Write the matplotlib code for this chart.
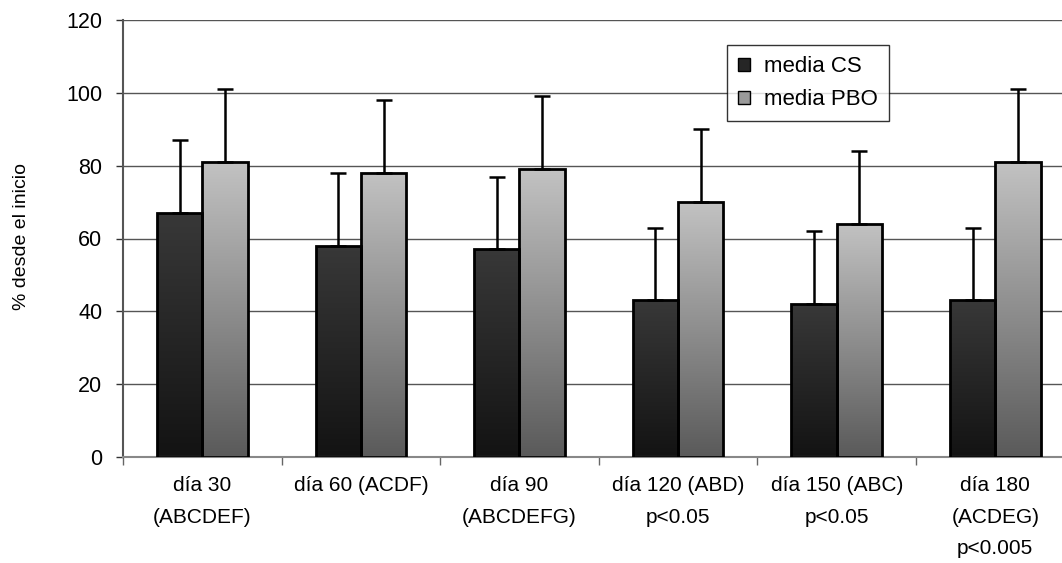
import numpy as np
import matplotlib.pyplot as plt
from matplotlib.patches import Patch
from matplotlib.colors import LinearSegmentedColormap

plt.rcParams['font.family'] = ['Liberation Sans', 'DejaVu Sans']

# data
categories = ["día 30\n(ABCDEF)", "día 60 (ACDF)", "día 90\n(ABCDEFG)",
              "día 120 (ABD)\np<0.05", "día 150 (ABC)\np<0.05",
              "día 180\n(ACDEG)\np<0.005"]
media_cs = [67, 58, 57, 43, 42, 43]
media_pbo = [81, 78, 79, 70, 64, 81]
err_cs = [20, 20, 20, 20, 20, 20]
err_pbo = [20, 20, 20, 20, 20, 20]

fig = plt.figure(figsize=(10.62, 5.63), dpi=100)
ax = fig.add_axes([123 / 1062, 1 - 457 / 563, (1074.6 - 123) / 1062, (457 - 20) / 563])

x = np.arange(len(categories))
w = 1 / 3.5

cmap_dark = LinearSegmentedColormap.from_list("dk", ["#131313", "#383838"])
cmap_light = LinearSegmentedColormap.from_list("lt", ["#5a5a5a", "#c2c2c2"])
grad = np.linspace(0, 1, 256).reshape(-1, 1)


def gradient_bars(xs, vals, cmap):
    bars = ax.bar(xs, vals, width=w, facecolor='none', edgecolor='black',
                  linewidth=2, zorder=3)
    for b in bars:
        x0, y0 = b.get_x(), b.get_y()
        im = ax.imshow(grad, cmap=cmap, origin='lower', aspect='auto',
                       extent=(x0, x0 + b.get_width(), y0, y0 + b.get_height()),
                       zorder=2)
        im.set_clip_path(b)
    return bars


gradient_bars(x - w / 2, media_cs, cmap_dark)
gradient_bars(x + w / 2, media_pbo, cmap_light)

ax.errorbar(x - w / 2, media_cs, yerr=[np.zeros(len(x)), err_cs], fmt='none',
            ecolor='black', elinewidth=1.8, capsize=6, capthick=1.8, zorder=4)
ax.errorbar(x + w / 2, media_pbo, yerr=[np.zeros(len(x)), err_pbo], fmt='none',
            ecolor='black', elinewidth=1.8, capsize=6, capthick=1.8, zorder=4)

ax.set_xlim(-0.5, len(x) - 0.5)
ax.set_ylim(0, 120)
ax.set_yticks(np.arange(0, 121, 20))
ax.yaxis.grid(True, color='#555555', linewidth=1)
ax.set_axisbelow(True)

ax.set_xticks(x)
ax.set_xticklabels(categories, fontsize=15, linespacing=1.82, va='top')
ax.set_xticks(np.arange(-0.5, len(x), 1), minor=True)
ax.tick_params(axis='x', which='major', length=0, pad=14)
ax.tick_params(axis='x', which='minor', length=6, width=1, color='#666666')
ax.tick_params(axis='y', length=5, width=1, labelsize=15.5, pad=10, color='#333333')

for s in ['top', 'right']:
    ax.spines[s].set_visible(False)
ax.spines['left'].set_color('#555555')
ax.spines['left'].set_linewidth(1.5)
ax.spines['bottom'].set_color('#888888')
ax.spines['bottom'].set_linewidth(1.5)

fig.text(22 / 1062, 1 - 237 / 563, "% desde el inicio", rotation=90,
         ha='center', va='center', fontsize=14)

handles = [Patch(facecolor='#262626', edgecolor='black', label='media CS'),
           Patch(facecolor='#9a9a9a', edgecolor='black', label='media PBO')]
leg = fig.legend(handles=handles, loc='upper left',
                 bbox_to_anchor=(727 / 1062, 1 - 45 / 563), fontsize=16,
                 frameon=True, fancybox=False, edgecolor='black',
                 handlelength=0.55, handleheight=0.55, handletextpad=0.6,
                 borderpad=0.5, labelspacing=0.55, borderaxespad=0)
leg.get_frame().set_linewidth(1)

fig.savefig("out.png", dpi=100)
